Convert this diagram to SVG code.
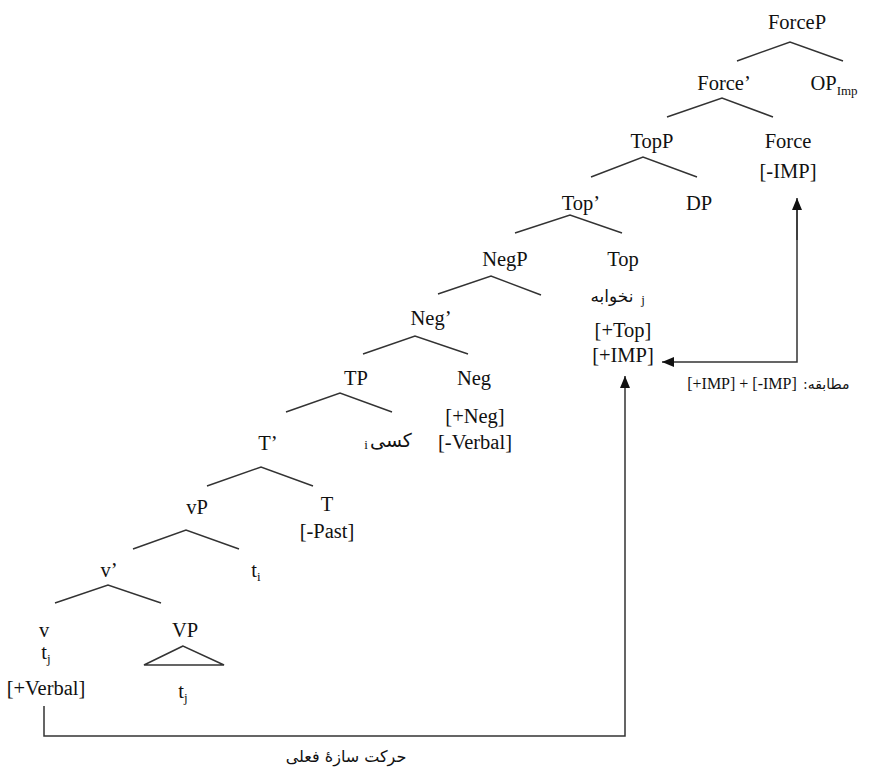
<svg xmlns="http://www.w3.org/2000/svg" width="872" height="771" viewBox="0 0 872 771">
<defs>
<style>
text{font-family:'Liberation Serif','Times New Roman','DejaVu Serif',serif;font-size:20.5px;fill:#111;text-anchor:middle}
text.fa{font-family:'DejaVu Sans','Noto Sans',sans-serif;font-size:16px}
.sub{font-size:13px}
.small{font-size:16px}
.br{fill:none;stroke:#333;stroke-width:1.5}
.cn{fill:none;stroke:#333;stroke-width:1.5}
</style>
<marker id="ah" viewBox="0 0 12 10" refX="12" refY="5" markerWidth="12" markerHeight="10" markerUnits="userSpaceOnUse" orient="auto">
<path d="M0,0 L12,5 L0,10 Z" fill="#111"/>
</marker>
</defs>
<rect width="872" height="771" fill="#fff"/>

<g id="branches">
<polyline class="br" points="737,61 790,42 843,61"/>
<polyline class="br" points="667,117 722,98 773,117"/>
<polyline class="br" points="591,177 643,157 697,177"/>
<polyline class="br" points="515,233 570,215 622,233"/>
<polyline class="br" points="438,294 491,276 541,295"/>
<polyline class="br" points="363,354 415,336 468,354"/>
<polyline class="br" points="286,412 340,393 392,412"/>
<polyline class="br" points="207,486 261,467 313,486"/>
<polyline class="br" points="133,549 186,530 239,549"/>
<polyline class="br" points="55,603 108,585 161,603"/>
</g>

<g font-family="Liberation Serif, Times New Roman, DejaVu Serif, serif">
<g id="ForceP"><text x="797" y="29">ForceP</text></g>
<g id="ForceBar"><text x="724" y="90">Force’</text></g>
<g id="OPImp"><text x="834" y="90">OP<tspan class="sub" dy="5">Imp</tspan></text></g>
<g id="TopP"><text x="652" y="148">TopP</text></g>
<g id="Force"><text x="788" y="148">Force</text><text x="788" y="178">[-IMP]</text></g>
<g id="TopBar"><text x="581" y="210">Top’</text></g>
<g id="DP"><text x="699" y="210">DP</text></g>
<g id="NegP"><text x="505" y="266">NegP</text></g>
<g id="Top"><text x="623" y="266">Top</text>
<text class="fa" style="font-size:17px" x="612" y="302">نخوابه</text><text class="sub" x="643" y="304">j</text>
<text x="623" y="337">[+Top]</text><text x="623" y="362">[+IMP]</text></g>
<g id="NegBar"><text x="431" y="325">Neg’</text></g>
<g id="TP"><text x="356" y="385">TP</text></g>
<g id="Neg"><text x="474" y="385">Neg</text><text x="475" y="423">[+Neg]</text><text x="475" y="449">[-Verbal]</text></g>
<g id="TBar"><text x="268" y="450">T’</text></g>
<g id="Kasi"><text class="fa" style="font-size:19px" x="391" y="447">کسی</text><text class="sub" x="366" y="449">i</text></g>
<g id="vP"><text x="197" y="514">vP</text></g>
<g id="T"><text x="327" y="511">T</text><text x="327" y="538">[-Past]</text></g>
<g id="vBar"><text x="109" y="577">v’</text></g>
<g id="ti"><text x="256" y="577">t<tspan class="sub" dy="4">i</tspan></text></g>
<g id="v"><text x="44" y="637">v</text><text x="46" y="659">t<tspan class="sub" dy="4">j</tspan></text><text x="46" y="695">[+Verbal]</text></g>
<g id="VP"><text x="185" y="637">VP</text>
<polygon points="183,646 144,665 224,665" fill="none" stroke="#333" stroke-width="1.5"/>
<text x="183" y="698">t<tspan class="sub" dy="4">j</tspan></text></g>
</g>

<g id="connectors">
<polyline class="cn" points="797,210 797,362 662,362" marker-end="url(#ah)"/>
<line class="cn" x1="797" y1="240" x2="797" y2="198" marker-end="url(#ah)"/>
<polyline class="cn" points="44,706 44,736 625,736 625,376" marker-end="url(#ah)"/>
</g>
<g id="labels">
<text class="small" x="742" y="389" font-family="Liberation Serif, serif">[+IMP] + [-IMP]</text>
<text class="fa" style="font-size:14px;text-anchor:start" x="803" y="389">:مطابقه</text>
<text class="fa" x="346" y="762">حرکت سازهٔ فعلی</text>
</g>
</svg>
